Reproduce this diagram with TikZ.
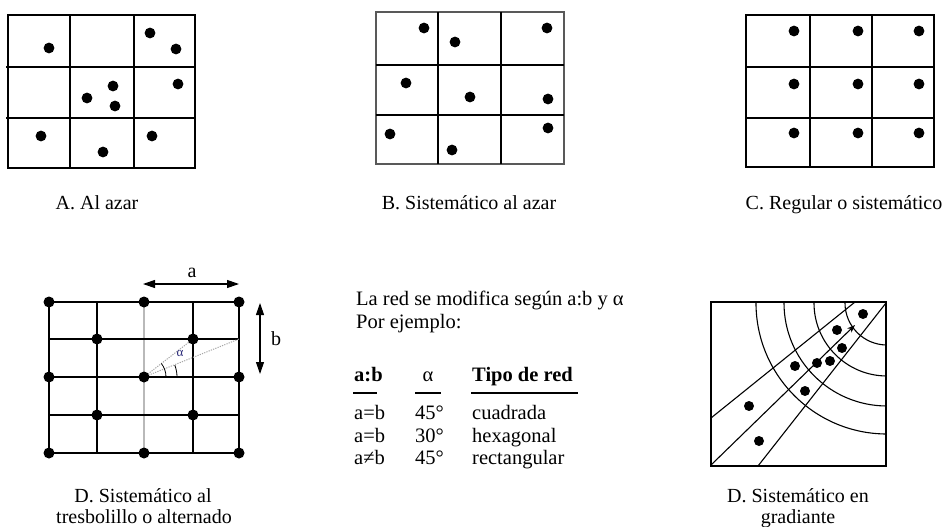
\documentclass[tikz,border=0pt]{standalone}
\usepackage{fontspec}
\setmainfont{Liberation Serif}
\usetikzlibrary{arrows.meta}
\definecolor{navy}{RGB}{40,40,120}
\begin{document}
\begin{tikzpicture}[x=1pt,y=-1pt,
  gridline/.style={line width=1.3pt, black},
  frame/.style={line width=1.5pt},
  thinline/.style={line width=1.1pt},
  lbl/.style={font=\fontsize{20}{22}\selectfont, anchor=base, inner sep=0pt},
  txt/.style={font=\fontsize{20.5}{22}\selectfont, anchor=base west, inner sep=0pt},
  btxt/.style={font=\fontsize{20.5}{22}\selectfont\bfseries, anchor=base west, inner sep=0pt},
  dimarrow/.style={line width=1.1pt, {Triangle[length=12pt,width=8pt]}-{Triangle[length=12pt,width=8pt]}},
]
\useasboundingbox (0,0) rectangle (943,527);
\fill[white] (0,0) rectangle (943,527);

% ---------- A. Al azar
\draw[frame] (8,15) rectangle (195,168);
\draw[gridline] (70,15) -- (70,168) (134,15) -- (134,168) (6,67) -- (195,67) (6,118) -- (195,118);
\foreach \x/\y in {49/48,150/33,176/49,113/86,87/98,115/106,178/84,41/136,152/136,103/152}
  \fill (\x,\y) circle[radius=5.4pt];
\node[lbl] (la) at (97,209) {A. Al azar};

% ---------- B. Sistematico al azar
\draw[frame, gray!70!black] (376,12) rectangle (564,164);
\draw[gridline] (438,12) -- (438,164) (501,12) -- (501,164) (376,65) -- (564,65) (376,115) -- (564,115);
\foreach \x/\y in {424/28,455/42,547/28,406/83,470/97,548/99,390/134,452/150,548/128}
  \fill (\x,\y) circle[radius=5.4pt];
\node[lbl] (lb) at (469,209) {B. Sistemático al azar};

% ---------- C. Regular o sistematico
\draw[frame] (746,15) rectangle (934,167);
\draw[gridline] (810,15) -- (810,167) (872,15) -- (872,167) (746,67) -- (934,67) (746,118) -- (934,118);
\foreach \x in {794,858,919}
  \foreach \y in {31,84,133}
    \fill (\x,\y) circle[radius=5.4pt];
\node[lbl] (lc) at (844,209) {C. Regular o sistemático};

% ---------- D. tresbolillo
\draw[gridline, gray!55] (144,302) -- (144,453);
\draw[gridline] (49,302) -- (239,302) (48,339) -- (239,339) (49,377) -- (239,377)
  (48,415) -- (239,415) (49,453) -- (239,453)
  (49,302) -- (49,453) (97,302) -- (97,453) (193,302) -- (193,453) (239,302) -- (239,453);
\draw[gray!70, line width=1pt, dash pattern=on 1.2pt off 1.2pt] (144,377) -- (193,339) (144,377) -- (239,339);
\draw[line width=0.8pt] (166,377) arc[start angle=0, end angle=38, radius=22pt];
\draw[line width=0.8pt] (177,377) arc[start angle=0, end angle=21, radius=33pt];
\node[font=\fontsize{13}{13}\selectfont, text=navy, inner sep=0pt] (alpha) at (180,353) {α};
\foreach \x/\y in {49/302,144/302,239/302,97/339,193/339,49/377,144/377,239/377,97/415,193/415,49/453,144/453,239/453}
  \fill (\x,\y) circle[radius=5.5pt];
\coordinate (a1) at (143,284);
\coordinate (a2) at (239,284);
\draw[dimarrow] (a1) -- (a2);
\node[lbl] (la2) at (192,277) {a};
\coordinate (b1) at (260,303);
\coordinate (b2) at (260,374);
\draw[dimarrow] (b1) -- (b2);
\node[lbl] (lb2) at (276,345) {b};
\node[lbl] (ld1) at (143,502) {D. Sistemático al};
\node[lbl] (ld2) at (144,523) {tresbolillo o alternado};

% ---------- middle text and table
\node[txt] (t1) at (356,305) {La red se modifica según a:b y α};
\node[txt] (t2) at (356,328) {Por ejemplo:};
\node[btxt] (h1) at (354,381) {a:b};
\node[lbl, font=\fontsize{20.5}{22}\selectfont] (h2) at (428,381) {α};
\node[btxt] (h3) at (472,381) {Tipo de red};
\draw[line width=1.2pt] (353,393) -- (377,393) (415,393) -- (441,393) (471,393) -- (578,393);
\node[txt] (r1a) at (354,419) {a=b};
\node[txt] (r1b) at (415,419) {45°};
\node[txt] (r1c) at (472,419) {cuadrada};
\node[txt] (r2a) at (354,442) {a=b};
\node[txt] (r2b) at (415,442) {30°};
\node[txt] (r2c) at (472,442) {hexagonal};
\node[txt] (r3a) at (354,464) {a≠b};
\node[txt] (r3b) at (415,464) {45°};
\node[txt] (r3c) at (472,464) {rectangular};

% ---------- D. gradiante
\begin{scope}
  \clip (711,302) rectangle (886,466);
  \foreach \r in {42,73,103,131}
    \draw[thinline] (887,303) circle[radius=\r pt];
\end{scope}
\draw[thinline] (711,418) -- (855,302);
\draw[thinline] (758,466) -- (886,303);
\draw[thinline, -{Stealth[length=8pt,width=6pt]}] (711,465) -- (855,325);
\draw[frame] (711,302) rectangle (886,466);
\foreach \x/\y in {863/314,837/330,842/348,830/361,817/363,795/366,805/391,749/406,759/441}
  \fill (\x,\y) circle[radius=5pt];
\node[lbl] (lg1) at (798,502) {D. Sistemático en};
\node[lbl] (lg2) at (798,523) {gradiante};
\end{tikzpicture}
\end{document}
